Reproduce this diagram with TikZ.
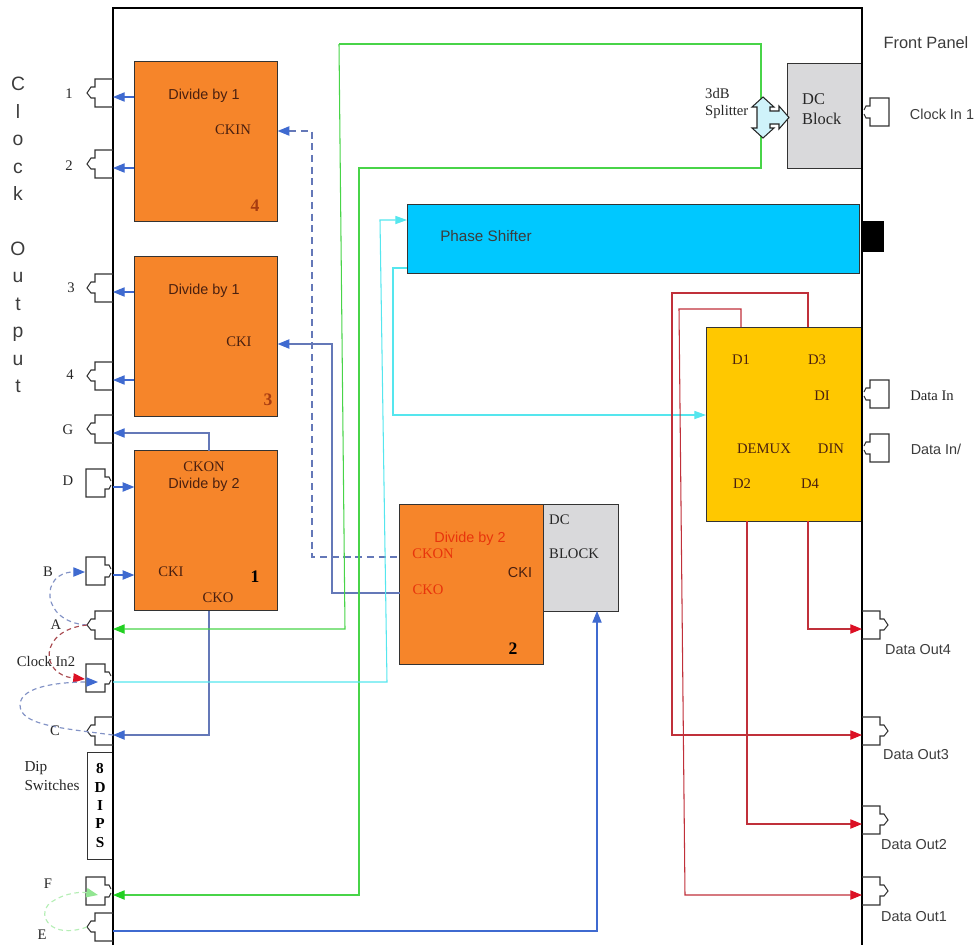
\documentclass[tikz,border=0pt]{standalone}
\usepackage{xcolor}
\usepackage{fontspec}
\setmainfont{Liberation Serif}
\setsansfont{Liberation Sans}
\usepackage[]{tikz}
\usetikzlibrary{positioning,calc}
\usetikzlibrary{arrows.meta}
\definecolor{blockOrange}{HTML}{F6852A}
\definecolor{blockYellow}{HTML}{FFC800}
\definecolor{blockCyan}{HTML}{00C8FF}
\definecolor{blockGray}{HTML}{D9D9DB}
\definecolor{splitCyan}{HTML}{CFF3FA}
\definecolor{lineBlue}{HTML}{3F6AD0}
\definecolor{lineSlate}{HTML}{6478B8}
\definecolor{lineGreen}{HTML}{48D448}
\definecolor{tipGreen}{HTML}{22D022}
\definecolor{lineCyan}{HTML}{55E6EE}
\definecolor{lineRed}{HTML}{C0303A}
\definecolor{tipRed}{HTML}{DC1024}
\definecolor{textBrown}{HTML}{4A2010}
\definecolor{textRed}{HTML}{E8340C}
\definecolor{textNum}{HTML}{A83C10}
\definecolor{textGray}{HTML}{3C3C3C}
\tikzstyle{nodeBlock}  =[draw=black!80, line width=0.7pt, inner sep=0pt, outer sep=0pt]
\tikzstyle{nodeOrange} =[nodeBlock, fill=blockOrange, minimum width=4.3cm, minimum height=4.8cm]
\tikzstyle{nodeGray}   =[nodeBlock, fill=blockGray]
\tikzstyle{txtSerif}   =[inner sep=0pt, font=\fontsize{12.5}{14}\selectfont, text=black!85]
\tikzstyle{txtSans}    =[inner sep=0pt, font=\sffamily\fontsize{12.3}{14}\selectfont, text=textGray]
\tikzstyle{txtBox}     =[txtSerif, text=textBrown]
\tikzstyle{txtBoxSans} =[txtSans, text=textBrown]
\tikzstyle{txtRed}     =[txtSerif, text=textRed]
\tikzstyle{txtNum}     =[inner sep=0pt, font=\bfseries\fontsize{15}{17}\selectfont]
\tikzstyle{wireBlue}   =[-{Triangle[length=10pt,width=8pt]}, line width=0.9pt, draw=lineSlate!50!lineBlue, color=lineBlue]
\tikzstyle{wireSlate}  =[{Triangle[length=10pt,width=8pt,lineBlue]}-, line width=0.9pt, draw=lineSlate]
\tikzstyle{wireGreen}  =[-{Triangle[length=10pt,width=8pt,tipGreen]}, line width=0.9pt, draw=lineGreen]
\tikzstyle{wireCyan}   =[-{Triangle[length=10pt,width=7pt]}, line width=0.9pt, color=lineCyan]
\tikzstyle{wireRed}    =[-{Triangle[length=10pt,width=8pt,tipRed]}, line width=0.9pt, draw=lineRed]
\tikzstyle{jump}       =[line width=1pt, dash pattern=on 4pt off 3pt]
\tikzset{
  portOut/.pic={
    \draw[line width=0.9pt, draw=black!80] (0,-14) -- (-18,-14) -- (-18,-6) -- (-22,-6) -- (-26,0)
      -- (-22,5) -- (-18,5) -- (-18,14) -- (0,14);
    \coordinate (-pin) at (0,4);
    \coordinate (-tip) at (-26,0);
  },
  portIn/.pic={
    \draw[line width=0.9pt, draw=black!80] (-2,-2) -- (-4,-6) -- (-8,-6) -- (-8,-14) -- (-27,-14) -- (-27,14) -- (-8,14)
      -- (-8,6) -- (-4,6) -- (-2,2);
    \coordinate (-pin) at (0,4);
    \coordinate (-tip) at (-28,1);
    \coordinate (-mid) at (-15,4);
  }
}

\begin{document}
\begin{tikzpicture}[x=0.03cm, y=-0.03cm, on grid]
  \useasboundingbox (0,0) rectangle (977,945);

  \node[nodeOrange] (box4) at (206,141.5) {};
  \node[nodeOrange] (box3) [below = 5.85cm of box4] {};
  \node[nodeOrange] (box1) [below = 5.82cm of box3] {};
  \node[nodeOrange] (box2) at (471.5,584.5) {};
  \node[nodeGray, minimum width=2.25cm, minimum height=3.21cm] (dcLow) at (580.5,557.5) {};
  \node[nodeGray, minimum width=2.25cm, minimum height=3.15cm] (dcTop) at (824.5,115.5) {};
  \node[nodeBlock, fill=blockCyan, minimum width=13.56cm, minimum height=2.07cm] (shifter) at (633,238.5) {};
  \node[nodeBlock, fill=blockYellow, minimum width=4.65cm, minimum height=5.82cm] (demux) at (783.5,424) {};
  \node[fill=black, inner sep=0pt, minimum width=0.66cm, minimum height=0.93cm] (knob) at (873,236.5) {};
  \node[draw=black!80, fill=white, line width=0.7pt, inner sep=0pt, minimum width=0.78cm, minimum height=3.21cm,
        align=center, font=\bfseries\fontsize{13}{15.6}\selectfont] (dips) at (100,805.5) {8\\D\\I\\P\\S};

  \draw[line width=2.2pt] (113,945) -- (113,8) -- (862,8) -- (862,945);

  \pic (p1) at (113,93) {portOut};
  \pic (p2) at (113,164) {portOut};
  \pic (p3) at (113,288) {portOut};
  \pic (p4) at (113,376) {portOut};
  \pic (pG) at (113,429) {portOut};
  \pic (pD) at (113,483) {portIn};
  \pic (pB) at (113,571) {portIn};
  \pic (pA) at (113,625) {portOut};
  \pic (pClk) at (113,678) {portIn};
  \pic (pC) at (113,731) {portOut};
  \pic (pF) at (113,891) {portIn};
  \pic (pE) at (113,927) {portOut};
  \pic[xscale=-1] (pIn1) at (862,112) {portIn};
  \pic[xscale=-1] (pData) at (862,394) {portIn};
  \pic[xscale=-1] (pDataN) at (862,448) {portIn};
  \pic[xscale=-1] (o4) at (862,625) {portOut};
  \pic[xscale=-1] (o3) at (862,731) {portOut};
  \pic[xscale=-1] (o2) at (862,820) {portOut};
  \pic[xscale=-1] (o1) at (862,891) {portOut};

  \coordinate (ckinA) at (312,557);
  \coordinate (ckinB) at (312,131);
  \coordinate (ckiA) at (332,593);
  \coordinate (ckiB) at (332,344);
  \coordinate (gTop) at (209,433);
  \coordinate (ckoDown) at (209,735);
  \coordinate (grnA) at (345,629);
  \coordinate (grnB) at (339,44);
  \coordinate (grnC) at (761,44);
  \coordinate (grnD) at (761,168);
  \coordinate (grnE) at (359,168);
  \coordinate (grnF) at (359,895);
  \coordinate (cyA) at (387,682);
  \coordinate (cyB) at (380,220);
  \coordinate (cyC) at (393,268);
  \coordinate (cyD) at (393,415);
  \coordinate (blA) at (597,931);
  \coordinate (d1A) at (741,309);
  \coordinate (d1B) at (679,309);
  \coordinate (d1C) at (685,895);
  \coordinate (d3A) at (808,293);
  \coordinate (d3B) at (672,293);
  \coordinate (d3C) at (672,735);
  \coordinate (d2A) at (747,824);
  \coordinate (d4A) at (808,629);

  \draw[wireBlue] (box4.west |- p1-pin) -- (p1-pin);
  \draw[wireBlue] (box4.west |- p2-pin) -- (p2-pin);
  \draw[wireBlue] (box3.west |- p3-pin) -- (p3-pin);
  \draw[wireBlue] (box3.west |- p4-pin) -- (p4-pin);
  \draw[wireBlue] (pD-pin) -- (box1.west |- pD-pin);
  \draw[wireBlue] (pB-pin) -- (box1.west |- pB-pin);
  \draw[wireSlate] (pG-pin) -- (gTop) -- (gTop |- box1.north);
  \draw[wireSlate] (pC-pin) -- (ckoDown) -- (ckoDown |- box1.south);
  \draw[wireSlate, dash pattern=on 6pt off 4pt] (box4.east |- ckinB) -- (ckinB) -- (ckinA) -- (box2.west |- ckinA);
  \draw[wireSlate] (box3.east |- ckiB) -- (ckiB) -- (ckiA) -- (box2.west |- ckiA);
  \draw[wireBlue] (pE-pin) -- (blA) -- (blA |- dcLow.south);

  \draw[wireGreen] (grnB) -- (grnA) -- (pA-pin);
  \draw[wireGreen] (grnB) -- (grnC) -- (grnD) -- (grnE) -- (grnF) -- (pF-pin);

  \draw[wireCyan] (pClk-pin) -- (cyA) -- (cyB) -- (cyB -| shifter.west);
  \draw[wireCyan] (shifter.west |- cyC) -- (cyC) -- (cyD) -- (cyD -| demux.west);

  \draw[wireRed] (d1A |- demux.north) -- (d1A) -- (d1B) -- (d1C) -- (d1C -| o1-pin);
  \draw[wireRed] (d3A |- demux.north) -- (d3A) -- (d3B) -- (d3C) -- (d3C -| o3-pin);
  \draw[wireRed] (d2A |- demux.south) -- (d2A) -- (d2A -| o2-pin);
  \draw[wireRed] (d4A |- demux.south) -- (d4A) -- (d4A -| o4-pin);

  \draw[jump, draw=lineSlate!80, -{Triangle[length=10pt,width=8pt,lineBlue]}] (pA-tip) .. controls (40,622) and (40,572) .. (pB-tip);
  \draw[jump, draw=lineRed!65!gray, -{Triangle[length=10pt,width=8pt,tipRed]}] (pA-tip) .. controls (38,630) and (40,675) .. (pClk-tip);
  \draw[jump, draw=lineSlate!80, -{Triangle[length=10pt,width=8pt,lineBlue]}] (pC-pin) .. controls (60,728) and (20,725) .. (20,705) .. controls (20,685) and (65,682) .. (pClk-mid);
  \draw[jump, draw=lineGreen!40!white, -{Triangle[length=10pt,width=8pt,lineGreen!60!white]}] (pE-tip) .. controls (50,940) and (38,915) .. (48,905) .. controls (58,895) and (78,891) .. (pF-mid);

  \draw[line width=0.9pt, draw=black!85, fill=splitCyan] (763,97) -- (774,107) -- (770,107) -- (770,111) -- (779,111)
    -- (779,106) -- (789,117.5) -- (779,129) -- (779,124) -- (770,124) -- (770,128) -- (774,128) -- (763,138)
    -- (752,128) -- (757,128) -- (757,107) -- (752,107) -- cycle;

  \node[inner sep=0pt, align=center, text=textGray, font=\sffamily\fontsize{16.5}{23.4}\selectfont] (clockOut) at (18,235)
    {C\\l\\o\\c\\k\\\mbox{}\\O\\u\\t\\p\\u\\t};

  \node[txtSerif] (n1) at (69,94) {1};
  \node[txtSerif] (n2) at (69,166) {2};
  \node[txtSerif] (n3) at (71,288) {3};
  \node[txtSerif] (n4) at (70,375) {4};
  \node[txtSerif] (nG) at (68,430) {G};
  \node[txtSerif] (nD) at (68,481) {D};
  \node[txtSerif] (nB) at (48,572) {B};
  \node[txtSerif] (nA) at (56,625) {A};
  \node[txtSerif] (nClk) at (46,661) {Clock In2};
  \node[txtSerif] (nC) at (55,731) {C};
  \node[txtSerif, align=left, font=\fontsize{13}{15.5}\selectfont] (nDip) at (52,776) {Dip\\Switches};
  \node[txtSerif] (nF) at (48,884) {F};
  \node[txtSerif] (nE) at (42,935) {E};

  \node[txtBoxSans] (t4a) at (204,95.5) {Divide by 1};
  \node[txtBox] (t4b) at (233,130) {CKIN};
  \node[txtNum, text=textNum] (t4c) at (255,206) {4};
  \node[txtBoxSans] (t3a) at (204,290.5) {Divide by 1};
  \node[txtBox] (t3b) at (239,342) {CKI};
  \node[txtNum, text=textNum] (t3c) at (268,400) {3};
  \node[txtBox] (t1a) at (204,467) {CKON};
  \node[txtBoxSans] (t1b) at (204,485) {Divide by 2};
  \node[txtBox] (t1c) at (171,572) {CKI};
  \node[txtBox] (t1d) at (218,598) {CKO};
  \node[txtNum] (t1e) at (255,577) {1};
  \node[txtSans, text=textRed] (t2a) at (470,539) {Divide by 2};
  \node[txtRed] (t2b) at (433,554) {CKON};
  \node[txtRed] (t2c) at (428,590) {CKO};
  \node[txtBoxSans] (t2d) at (520,573) {CKI};
  \node[txtNum] (t2e) at (513,649) {2};
  \node[txtSerif, anchor=west] (dcA) at (549,520) {DC};
  \node[txtSerif, anchor=west] (dcB) at (549,554) {BLOCK};
  \node[txtSerif, anchor=west, font=\fontsize{14}{17}\selectfont] (dcC) at (802,99) {DC};
  \node[txtSerif, anchor=west, font=\fontsize{14}{17}\selectfont] (dcD) at (802,119) {Block};
  \node[txtSerif, anchor=west] (sp3) at (705,93) {3dB};
  \node[txtSerif, anchor=west] (spS) at (705,112) {Splitter};
  \node[txtSans, font=\sffamily\fontsize{14}{16}\selectfont] (front) at (926,43) {Front Panel};
  \node[txtSans] (clk1) at (942,114) {Clock In 1};
  \node[txtBoxSans, text=textGray, font=\sffamily\fontsize{13}{15}\selectfont] (phase) at (486,236) {Phase Shifter};

  \node[txtBox] (mD1) at (741,360) {D1};
  \node[txtBox] (mD3) at (817,360) {D3};
  \node[txtBox] (mDI) at (822,396) {DI};
  \node[txtBox] (mDx) at (764,449) {DEMUX};
  \node[txtBox] (mDN) at (831,449) {DIN};
  \node[txtBox] (mD2) at (742,484) {D2};
  \node[txtBox] (mD4) at (810,484) {D4};

  \node[txtSerif] (dIn) at (932,396) {Data In};
  \node[txtSans] (dInN) at (936,449) {Data In/};
  \node[txtSans] (dO4) at (918,650) {Data Out4};
  \node[txtSans] (dO3) at (916,755) {Data Out3};
  \node[txtSans] (dO2) at (914,845) {Data Out2};
  \node[txtSans] (dO1) at (914,917) {Data Out1};
\end{tikzpicture}
\end{document}
